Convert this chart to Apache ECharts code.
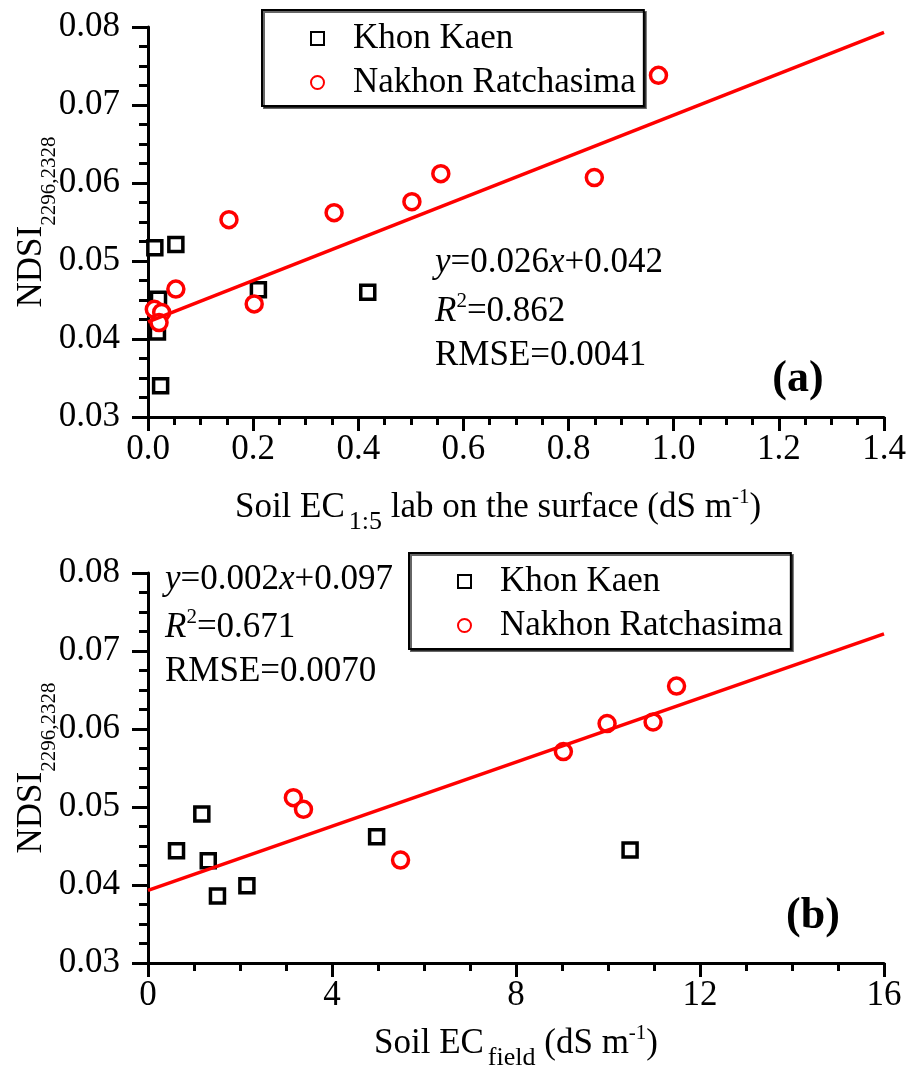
<!DOCTYPE html>
<html>
<head>
<meta charset="utf-8">
<script src="https://cdn.jsdelivr.net/npm/echarts@6/dist/echarts.min.js"></script>
<style>
  html, body { margin: 0; padding: 0; background: #fff; }
  #chart { width: 908px; height: 1072px; }
</style>
</head>
<body>
<div id="chart"></div>
<script>
// panel (a): NDSI vs soil EC 1:5 lab
var kkA = [[0.013, 0.0517], [0.053, 0.0521], [0.020, 0.0451], [0.018, 0.0409], [0.024, 0.0340], [0.210, 0.0463], [0.418, 0.0460]];
var nrA = [[0.012, 0.0438], [0.026, 0.0434], [0.021, 0.0421], [0.053, 0.0464], [0.154, 0.0553], [0.202, 0.0445],
           [0.354, 0.0562], [0.502, 0.0576], [0.557, 0.0612], [0.849, 0.0607], [0.971, 0.0738]];
var fitA = [[0, 0.0422], [1.4, 0.0793]];

// panel (b): NDSI vs soil EC field
var kkB = [[0.62, 0.0444], [1.17, 0.0491], [1.31, 0.0431], [1.51, 0.0386], [2.15, 0.0399], [4.97, 0.0462], [10.48, 0.0445]];
var nrB = [[3.16, 0.0512], [3.38, 0.0497], [5.49, 0.0432], [9.03, 0.0571], [9.98, 0.0607], [10.98, 0.0609], [11.49, 0.0655]];
var fitB = [[0, 0.0393], [16, 0.0722]];

var seriesNames = ['Khon Kaen', 'Nakhon Ratchasima'];
var statsA = ['{i|y}=0.026{i|x}+0.042', '{i|R}{sup|2}=0.862', 'RMSE=0.0041'];
var statsB = ['{i|y}=0.002{i|x}+0.097', '{i|R}{sup|2}=0.671', 'RMSE=0.0070'];

var font = "'Liberation Serif', 'Times New Roman', serif";
var fs = 35;

var myChart = echarts.init(document.getElementById('chart'));

function xAxisCfg(idx, max, interval, name, gap, shift, fmt) {
    return {
        type: 'value', gridIndex: idx, min: 0, max: max, interval: interval,
        name: name, nameLocation: 'middle', nameGap: gap, nameMoveOverlap: false,
        nameTextStyle: {
            fontFamily: font, fontSize: fs, color: '#000', padding: [0, shift, 0, 0],
            rich: {
                sub: { fontFamily: font, fontSize: 26, color: '#000', padding: [28, 0, 0, 4] },
                sup: { fontFamily: font, fontSize: 21, color: '#000', padding: [0, 0, 22, 0] }
            }
        },
        axisLine: { show: true, onZero: false, lineStyle: { color: '#000', width: 3 } },
        axisTick: { show: true, length: 14, lineStyle: { width: 3, color: '#000' } },
        minorTick: { show: true, splitNumber: 4, length: 8, lineStyle: { width: 3, color: '#000' } },
        splitLine: { show: false },
        axisLabel: { fontFamily: font, fontSize: fs, color: '#000', margin: 15, formatter: fmt }
    };
}

function yAxisCfg(idx) {
    return {
        type: 'value', gridIndex: idx, min: 0.03, max: 0.08, interval: 0.01,
        name: 'NDSI{sub|2296,2328}', nameLocation: 'middle', nameGap: 88, nameMoveOverlap: false,
        nameTextStyle: {
            fontFamily: font, fontSize: fs, color: '#000',
            rich: { sub: { fontFamily: font, fontSize: 21, color: '#000', padding: [36, 0, 0, 0] } }
        },
        axisLine: { show: true, onZero: false, lineStyle: { color: '#000', width: 3 } },
        axisTick: { show: true, length: 16, lineStyle: { width: 3, color: '#000' } },
        minorTick: { show: true, splitNumber: 4, length: 9, lineStyle: { width: 3, color: '#000' } },
        splitLine: { show: false },
        axisLabel: { fontFamily: font, fontSize: fs, color: '#000', margin: 28,
            formatter: function (v) { return v.toFixed(2); } }
    };
}

function legendCfg(left, top) {
    return {
        data: seriesNames, orient: 'vertical', left: left, top: top,
        padding: [11, 8, 6, 48], itemGap: 9, itemWidth: 13, itemHeight: 13,
        borderColor: '#000', borderWidth: 2, backgroundColor: '#fff',
        shadowColor: 'rgba(0,0,0,0.6)', shadowOffsetX: 2, shadowOffsetY: 2, shadowBlur: 0,
        selectedMode: false,
        textStyle: { fontFamily: font, fontSize: fs, color: '#000', padding: [0, 0, 0, 24] }
    };
}

function statText(lines, x, ys) {
    return lines.map(function (t, i) {
        return {
            type: 'text', x: x, y: ys[i],
            style: {
                text: t, fontFamily: font, fontSize: fs, fill: '#000', verticalAlign: 'middle',
                rich: {
                    i: { fontFamily: font, fontSize: fs, fontStyle: 'italic', fill: '#000' },
                    sup: { fontFamily: font, fontSize: 21, fill: '#000', padding: [0, 0, 22, 0] }
                }
            }
        };
    });
}

function scatter(name, data, idx, isCircle) {
    return {
        name: name, type: 'scatter', xAxisIndex: idx, yAxisIndex: idx,
        symbol: isCircle ? 'circle' : 'rect', symbolSize: isCircle ? 16 : 14,
        itemStyle: { color: '#fff', borderColor: isCircle ? '#ff0000' : '#000', borderWidth: 3.5, opacity: 1 },
        data: data, z: 3
    };
}

function fitLine(data, idx) {
    return {
        type: 'line', xAxisIndex: idx, yAxisIndex: idx, data: data, showSymbol: false,
        lineStyle: { color: '#ff0000', width: 3.5 }, silent: true, z: 4
    };
}

var option = {
    backgroundColor: '#fff',
    animation: false,
    grid: [
        { left: 148, top: 27, width: 736, height: 390, outerBoundsMode: 'none' },
        { left: 148, top: 573, width: 736, height: 390, outerBoundsMode: 'none' }
    ],
    xAxis: [
        xAxisCfg(0, 1.4, 0.2, 'Soil EC{sub|1:5} lab on the surface (dS m{sup|-1})', 64, 36, function (v) { return v.toFixed(1); }),
        xAxisCfg(1, 16, 4, 'Soil EC{sub|field} (dS m{sup|-1})', 54, 0, function (v) { return String(v); })
    ],
    yAxis: [yAxisCfg(0), yAxisCfg(1)],
    legend: [legendCfg(262, 10), legendCfg(409, 553)],
    series: [
        scatter('Khon Kaen', kkA, 0, false),
        scatter('Nakhon Ratchasima', nrA, 0, true),
        fitLine(fitA, 0),
        scatter('Khon Kaen', kkB, 1, false),
        scatter('Nakhon Ratchasima', nrB, 1, true),
        fitLine(fitB, 1)
    ],
    graphic: statText(statsA, 435, [263, 312, 356])
        .concat(statText(statsB, 165, [580, 628, 672]))
        .concat([
            { type: 'text', x: 798, y: 380, style: { text: '(a)', fontFamily: font, fontSize: 44, fontWeight: 'bold',
                fill: '#000', align: 'center', verticalAlign: 'middle' } },
            { type: 'text', x: 813, y: 917, style: { text: '(b)', fontFamily: font, fontSize: 44, fontWeight: 'bold',
                fill: '#000', align: 'center', verticalAlign: 'middle' } }
        ])
};

myChart.setOption(option);
</script>
</body>
</html>
